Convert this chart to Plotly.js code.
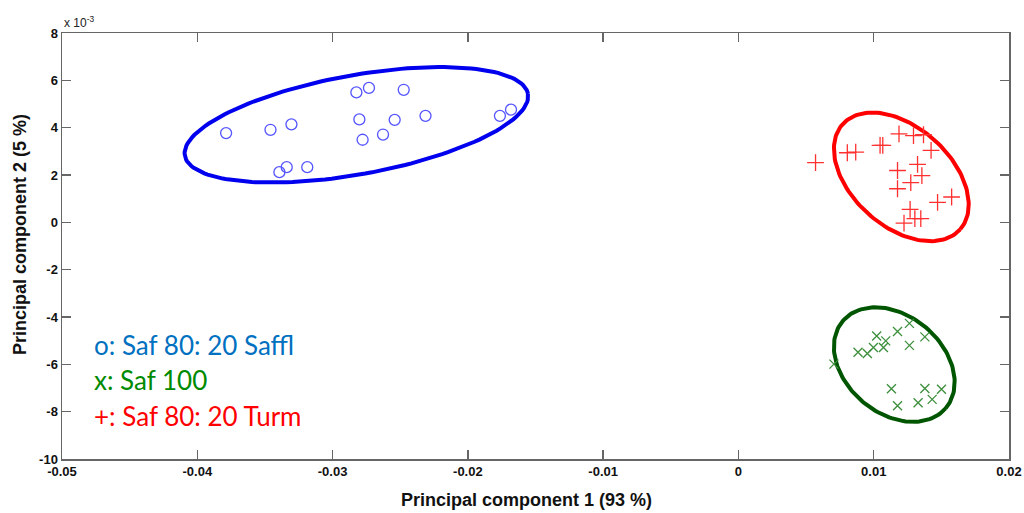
<!DOCTYPE html>
<html>
<head>
<meta charset="utf-8">
<script src="https://cdn.plot.ly/plotly-3.0.1.min.js"></script>
<style>html,body{margin:0;padding:0;background:#fff;}#chart{width:1024px;height:513px;}</style>
</head>
<body>
<div id="chart"></div>
<script>
// PC2 values are in units of 1e-3 (axis shows "x 10^-3")
var saffl_pc1 = [-0.03787,-0.03459,-0.03304,-0.03393,-0.03339,-0.03187,-0.02824,-0.02731,-0.02474,-0.02802,-0.02778,-0.02627,-0.02541,-0.02313,-0.01763,-0.01681];
var saffl_pc2 = [3.77,3.91,4.14,2.12,2.33,2.33,5.49,5.68,5.60,4.35,3.49,3.71,4.33,4.50,4.50,4.76];

var saf100_pc1 = [0.00706,0.00884,0.00953,0.00998,0.01022,0.01072,0.01089,0.01176,0.01264,0.01264,0.01378,0.01131,0.01378,0.01501,0.01176,0.01328,0.01432];
var saf100_pc2 = [-5.99,-5.49,-5.54,-5.29,-4.80,-5.29,-5.01,-4.61,-4.27,-5.20,-4.84,-7.03,-7.02,-7.05,-7.75,-7.62,-7.48];

var turm_pc1 = [0.00570,0.00805,0.00867,0.01047,0.01067,0.01187,0.01294,0.01368,0.01424,0.01324,0.01176,0.01356,0.01274,0.01176,0.01576,0.01472,0.01269,0.01304,0.01348,0.01224];
var turm_pc2 = [2.52,2.94,2.97,3.25,3.25,3.74,3.66,3.70,3.04,2.45,2.19,1.97,1.68,1.42,1.07,0.84,0.55,0.16,0.16,-0.03];

// Ellipses: centre and two conjugate half-diameters (pc1, pc2)
var saffl_ell = {c:[-0.02824,4.12], a:[0.01268,1.31], b:[0.00066,-2.06]};
var saf100_ell = {c:[0.01152,-6.01], a:[0.003793,-1.85], b:[-0.002356,-1.56]};
var turm_ell = {c:[0.01204,1.92], a:[0.004363,-2.21], b:[-0.002407,-1.58]};

var xTickVals = [-0.05,-0.04,-0.03,-0.02,-0.01,0,0.01,0.02];
var xTickText = ['-0.05','-0.04','-0.03','-0.02','-0.01','0','0.01','0.02'];
var yTickVals = [-10,-8,-6,-4,-2,0,2,4,6,8];
var yTickText = ['-10','-8','-6','-4','-2','0','2','4','6','8'];

var legendLines = ['o: Saf 80: 20 Saffl','x: Saf 100','+: Saf 80: 20 Turm'];
var legendColors = ['#0070C0','#008A00','#FF0000'];

function ellipse(e){
  var xs=[], ys=[];
  for(var i=0;i<=160;i++){
    var t=2*Math.PI*i/160;
    xs.push(e.c[0]+Math.cos(t)*e.a[0]+Math.sin(t)*e.b[0]);
    ys.push(e.c[1]+Math.cos(t)*e.a[1]+Math.sin(t)*e.b[1]);
  }
  return {x:xs,y:ys};
}
var eb=ellipse(saffl_ell), eg=ellipse(saf100_ell), er=ellipse(turm_ell);

var traces = [
  {x:eb.x,y:eb.y,mode:'lines',line:{color:'#0000EE',width:4},hoverinfo:'skip'},
  {x:er.x,y:er.y,mode:'lines',line:{color:'#FF0000',width:4},hoverinfo:'skip'},
  {x:eg.x,y:eg.y,mode:'lines',line:{color:'#005500',width:4},hoverinfo:'skip'},
  {x:saffl_pc1,y:saffl_pc2,mode:'markers',marker:{symbol:'circle-open',size:11,color:'#5555FF',line:{width:1.3}}},
  {x:saf100_pc1,y:saf100_pc2,mode:'markers',marker:{symbol:'x-thin-open',size:9,color:'#3C8F3C',line:{width:1.3}}},
  {x:turm_pc1,y:turm_pc2,mode:'markers',marker:{symbol:'cross-thin-open',size:12,color:'#FF3030',line:{width:1.3}}}
];

var annotations = [
  {xref:'paper',yref:'paper',x:0,y:1,xanchor:'left',yanchor:'bottom',yshift:1,showarrow:false,
   text:'x 10<sup>-3</sup>',font:{family:'Liberation Sans, Arial',size:12,color:'#222'}},
  {xref:'paper',yref:'paper',x:(526-62)/947,y:0,yshift:-41,xanchor:'center',yanchor:'middle',showarrow:false,
   text:'Principal component 1 (93 %)',font:{family:'Liberation Sans, Arial',size:18,color:'#111',weight:'bold'}},
  {xref:'paper',yref:'paper',x:0,xshift:-42,y:(459-235)/426,xanchor:'center',yanchor:'middle',textangle:-90,showarrow:false,
   text:'Principal component 2 (5 %)',font:{family:'Liberation Sans, Arial',size:18,color:'#111',weight:'bold'}}
];
var legY=[(459-345)/426,(459-380)/426,(459-416)/426];
for(var i=0;i<legendLines.length;i++){
  annotations.push({xref:'paper',yref:'paper',x:(92-62)/947,y:legY[i],xanchor:'left',yanchor:'middle',showarrow:false,
    text:legendLines[i],font:{family:'Lato, Open Sans',size:26,color:legendColors[i]}});
}

var layout = {
  width:1024,height:513,
  margin:{l:62,r:15,t:33,b:54},
  paper_bgcolor:'#fff',plot_bgcolor:'#fff',
  showlegend:false,
  xaxis:{range:[-0.05,0.02],tickvals:xTickVals,ticktext:xTickText,ticks:'inside',ticklen:9,tickwidth:1.3,tickcolor:'#666',
    showline:true,linecolor:'#666',linewidth:1.5,mirror:'ticks',showgrid:false,zeroline:false,
    tickfont:{family:'Liberation Sans, Arial',size:13,color:'#111',weight:'bold'}},
  yaxis:{range:[-10,8],tickvals:yTickVals,ticktext:yTickText,ticks:'inside',ticklen:9,tickwidth:1.3,tickcolor:'#666',
    showline:true,linecolor:'#666',linewidth:1.5,mirror:'ticks',showgrid:false,zeroline:false,
    tickfont:{family:'Liberation Sans, Arial',size:13,color:'#111',weight:'bold'}},
  annotations:annotations
};
Plotly.newPlot('chart',traces,layout,{displayModeBar:false,staticPlot:true});
</script>
</body>
</html>
